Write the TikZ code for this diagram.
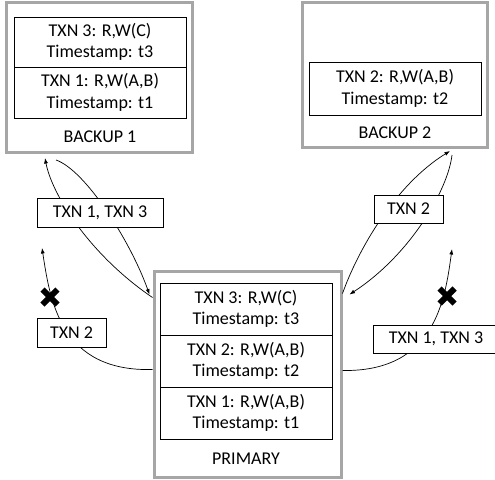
\documentclass[tikz,border=0pt]{standalone}
\usepackage{fontspec}
\setmainfont{Carlito}
\usetikzlibrary{arrows.meta,calc}
\definecolor{framegray}{HTML}{A6A6A6}
\tikzset{
  server/.style={draw=framegray, line width=3pt, rectangle, inner sep=0pt},
  cell/.style={draw, line width=0.9pt, fill=white, minimum width=172pt,
    inner sep=0pt, align=center, font=\fontsize{18}{21.5}\selectfont},
  caption/.style={inner sep=0pt, font=\fontsize{18}{21.5}\selectfont},
  tag/.style={draw, line width=0.9pt, fill=white, inner sep=0pt,
    font=\fontsize{18}{21.5}\selectfont},
  msg/.style={line width=0.7pt, -{Latex[length=5.5pt,width=4pt]}},
  blocked/.style={line width=6pt, line cap=butt},
}
\begin{document}
\begin{tikzpicture}[x=1pt,y=-1pt]
\useasboundingbox (0,0) rectangle (495,479);

% servers
\node[server, minimum width=186pt, minimum height=150pt] (b1) at (99,77) {};
\node[server, minimum width=185pt, minimum height=145pt] (b2) at (394.5,74.5) {};
\node[server, minimum width=187pt, minimum height=206pt] (prim) at (247.5,374) {};

% transaction logs
\node[cell, minimum height=50pt] (b1t3) at (100,42) {TXN 3: R,W(C)\\Timestamp: t3};
\node[cell, minimum height=51pt] (b1t1) at (100,92.5) {TXN 1: R,W(A,B)\\Timestamp: t1};
\node[caption] (b1name) at (100,137) {BACKUP 1};

\node[cell, minimum height=53pt] (b2t2) at (395,88.5) {TXN 2: R,W(A,B)\\Timestamp: t2};
\node[caption] (b2name) at (395,133) {BACKUP 2};

\node[cell, minimum height=52pt] (pt3) at (246,309) {TXN 3: R,W(C)\\Timestamp: t3};
\node[cell, minimum height=52pt] (pt2) at (246,361) {TXN 2: R,W(A,B)\\Timestamp: t2};
\node[cell, minimum height=52pt] (pt1) at (246,413) {TXN 1: R,W(A,B)\\Timestamp: t1};
\node[caption] (pname) at (246,459) {PRIMARY};

% free ends of the lost messages
\coordinate (lostL) at (42,248);
\coordinate (lostR) at (452,249);

% replication traffic
\draw[msg] ($(prim.north west)+(0,28)$) .. controls (90,255) and (52,195) .. ($(b1.south west)+(40.5,4.5)$);
\draw[msg] ($(b1.south west)+(51.5,6.5)$) .. controls (85,170) and (130,240) .. ($(prim.north west)+(-3,25)$);
\draw[msg] ($(prim.north east)+(0,24)$) .. controls (358,250) and (395,185) .. ($(b2.south west)+(149.5,2.5)$);
\draw[msg] ($(b2.south west)+(151.5,6.5)$) .. controls (448,190) and (410,255) .. ($(prim.north east)+(7,25)$);
\draw[msg] ($(prim.north west)+(0,100)$) .. controls (60,372) and (50,300) .. (lostL);
\draw[msg] ($(prim.north east)+(0,101)$) .. controls (435,372) and (445,300) .. (lostR);

% message labels
\node[tag, minimum width=126pt, minimum height=29pt] (l13) at (100,212.5) {TXN 1, TXN 3};
\node[tag, minimum width=69pt, minimum height=29pt] (l2) at (71.5,332.5) {TXN 2};
\node[tag, minimum width=69pt, minimum height=28pt] (r2) at (408.5,209) {TXN 2};
\node[tag, minimum width=126pt, minimum height=28pt] (r13) at (436,339) {TXN 1, TXN 3};

% dropped messages
\draw[blocked] (42.5,289.5) -- (57.5,304.5) (42.5,304.5) -- (57.5,289.5);
\draw[blocked] (439.5,288.5) -- (454.5,303.5) (439.5,303.5) -- (454.5,288.5);
\end{tikzpicture}
\end{document}
